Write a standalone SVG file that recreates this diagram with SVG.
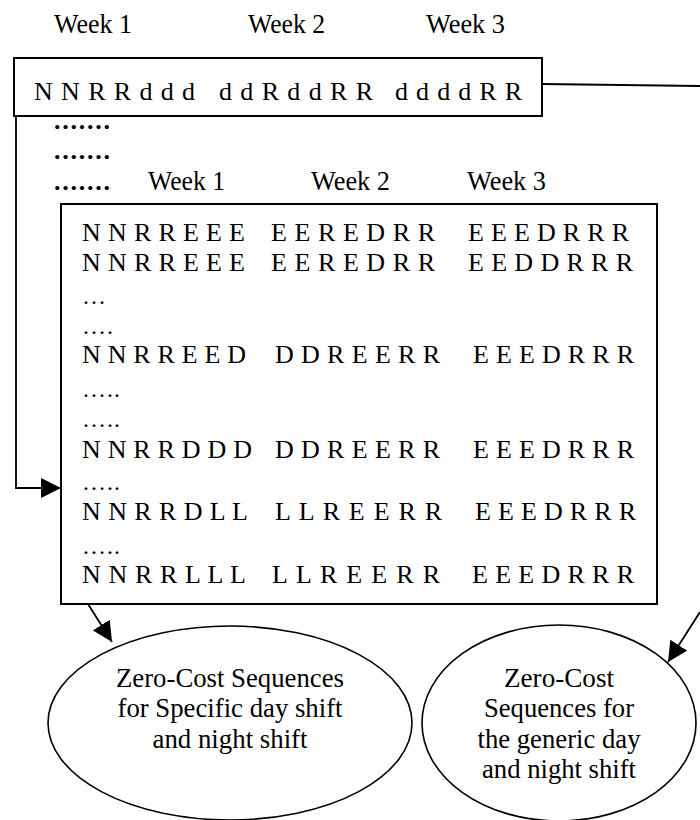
<svg xmlns="http://www.w3.org/2000/svg" width="700" height="820" viewBox="0 0 700 820">
<defs>
<style>
text{font-family:"Liberation Serif","Times New Roman",serif;fill:#000}
.wk{font-size:28px}
.seq{font-size:26px}
.dots{font-size:26px;font-weight:bold}
.sd{font-size:24px}
.el{font-size:28px;text-anchor:middle}
.box{fill:#fff;stroke:#000;stroke-width:2}
.ell{fill:#fff;stroke:#000;stroke-width:1.6}
.con{fill:none;stroke:#000;stroke-width:1.8}
</style>
<marker id="ah" markerWidth="20" markerHeight="20" refX="20" refY="10" orient="auto" markerUnits="userSpaceOnUse" viewBox="0 0 20 20">
<path d="M0,0 L20,10 L0,20 Z" fill="#000"/>
</marker>
</defs>
<rect width="700" height="820" fill="#fff"/>

<g id="week-labels-top">
<text class="wk" x="54" y="33" textLength="78" lengthAdjust="spacingAndGlyphs">Week 1</text>
<text class="wk" x="248" y="33" textLength="77" lengthAdjust="spacingAndGlyphs">Week 2</text>
<text class="wk" x="426" y="33" textLength="79" lengthAdjust="spacingAndGlyphs">Week 3</text>
</g>

<g id="node-generic">
<rect class="box" x="14" y="58" width="528" height="58"/>
<text class="seq" x="34" y="100" textLength="161">N N R R d d d</text>
<text class="seq" x="219" y="100" textLength="154">d d R d d R R</text>
<text class="seq" x="395" y="100" textLength="127">d d d d R R</text>
</g>

<g id="dots-left">
<text class="dots" x="54" y="129" textLength="56">.......</text>
<text class="dots" x="54" y="159" textLength="56">.......</text>
<text class="dots" x="54" y="190" textLength="56">.......</text>
</g>

<g id="week-labels-inner">
<text class="wk" x="148" y="190" textLength="77" lengthAdjust="spacingAndGlyphs">Week 1</text>
<text class="wk" x="311" y="190" textLength="79" lengthAdjust="spacingAndGlyphs">Week 2</text>
<text class="wk" x="467" y="190" textLength="79" lengthAdjust="spacingAndGlyphs">Week 3</text>
</g>

<g id="node-specific">
<rect class="box" x="61" y="204" width="596" height="400"/>
<text class="seq" x="82" y="241" textLength="163">N N R R E E E</text>
<text class="seq" x="271" y="241" textLength="164">E E R E D R R</text>
<text class="seq" x="468" y="241" textLength="161">E E E D R R R</text>

<text class="seq" x="82" y="271" textLength="163">N N R R E E E</text>
<text class="seq" x="271" y="271" textLength="164">E E R E D R R</text>
<text class="seq" x="468" y="271" textLength="165">E E D D R R R</text>

<text class="sd" x="82" y="304" textLength="23">…</text>
<text class="sd" x="82" y="334" textLength="31">….</text>

<text class="seq" x="82" y="363" textLength="164">N N R R E E D</text>
<text class="seq" x="275" y="363" textLength="165">D D R E E R R</text>
<text class="seq" x="473" y="363" textLength="161">E E E D R R R</text>

<text class="sd" x="82" y="397" textLength="38">…..</text>
<text class="sd" x="82" y="427" textLength="38">…..</text>

<text class="seq" x="82" y="458" textLength="170">N N R R D D D</text>
<text class="seq" x="275" y="458" textLength="165">D D R E E R R</text>
<text class="seq" x="473" y="458" textLength="161">E E E D R R R</text>

<text class="sd" x="82" y="490" textLength="38">…..</text>

<text class="seq" x="82" y="520" textLength="166">N N R R D L L</text>
<text class="seq" x="275" y="520" textLength="167">L L R E E R R</text>
<text class="seq" x="475" y="520" textLength="161">E E E D R R R</text>

<text class="sd" x="82" y="554" textLength="38">…..</text>

<text class="seq" x="82" y="583" textLength="164">N N R R L L L</text>
<text class="seq" x="272" y="583" textLength="168">L L R E E R R</text>
<text class="seq" x="472" y="583" textLength="162">E E E D R R R</text>
</g>

<g id="node-zero-specific">
<ellipse class="ell" cx="230" cy="723" rx="182" ry="97"/>
<text class="el" x="230" y="687" textLength="228" lengthAdjust="spacingAndGlyphs">Zero-Cost Sequences</text>
<text class="el" x="230" y="717" textLength="225" lengthAdjust="spacingAndGlyphs">for Specific day shift</text>
<text class="el" x="230" y="748" textLength="155" lengthAdjust="spacingAndGlyphs">and night shift</text>
</g>

<g id="node-zero-generic">
<ellipse class="ell" cx="559" cy="723" rx="137" ry="98"/>
<text class="el" x="559" y="687" textLength="110" lengthAdjust="spacingAndGlyphs">Zero-Cost</text>
<text class="el" x="559" y="717" textLength="150" lengthAdjust="spacingAndGlyphs">Sequences for</text>
<text class="el" x="559" y="748" textLength="163" lengthAdjust="spacingAndGlyphs">the generic day</text>
<text class="el" x="559" y="778" textLength="154" lengthAdjust="spacingAndGlyphs">and night shift</text>
</g>

<g id="connectors">
<polyline class="con" points="16,116 16,488 61,488" marker-end="url(#ah)"/>
<line class="con" x1="542" y1="84" x2="700" y2="86"/>
<line class="con" x1="700" y1="612" x2="668" y2="662" marker-end="url(#ah)"/>
<line class="con" x1="88" y1="604" x2="112" y2="642" marker-end="url(#ah)"/>
</g>
</svg>
